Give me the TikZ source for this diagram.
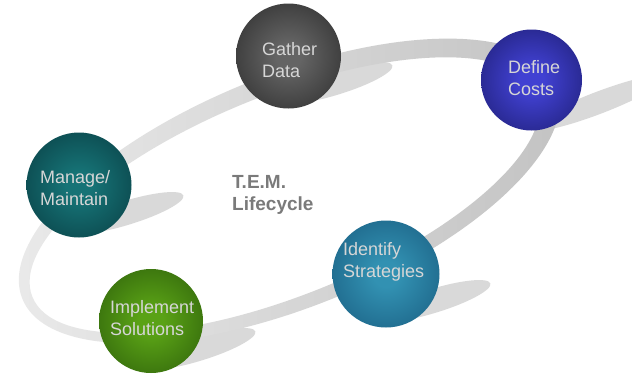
\documentclass[tikz,border=0pt]{standalone}
\usepackage{fontspec}
\setmainfont{Liberation Sans}
\definecolor{sphin}{RGB}{100,100,100}
\definecolor{sphout}{RGB}{40,40,40}
\pgfdeclareradialshading[sphin,sphout]{sphere}{\pgfpoint{0bp}{0bp}}{color(0bp)=(sphin); color(6bp)=(sphin); color(42bp)=(sphout); color(50bp)=(sphout)}
\definecolor{gatherin}{RGB}{100,100,100}\definecolor{gatherout}{RGB}{32,32,32}
\definecolor{definein}{RGB}{65,65,210}\definecolor{defineout}{RGB}{22,22,95}
\definecolor{managein}{RGB}{22,115,118}\definecolor{manageout}{RGB}{6,50,56}
\definecolor{identin}{RGB}{50,145,178}\definecolor{identout}{RGB}{20,82,118}
\definecolor{implin}{RGB}{90,162,22}\definecolor{implout}{RGB}{36,82,8}
\tikzset{
  sph/.style 2 args={circle, inner sep=0pt, minimum size=#2, shade, shading=sphere,
    /utils/exec={\colorlet{sphin}{#1in}\colorlet{sphout}{#1out}}},
  lbl/.style={anchor=west, align=left, inner sep=0pt, text=white!84!black,
    font=\fontsize{18}{22}\selectfont},
  shadowfill/.style={fill=black!15},
}
\begin{document}
\begin{tikzpicture}[x=1pt,y=-1pt]
\useasboundingbox (0,0) rectangle (632,376);
\fill[white] (0,0) rectangle (632,376);
\clip (0,0) rectangle (632,376);
% shadows
\fill[shadowfill, rotate around={17:(335,83)}] (335,83) ellipse [x radius=60pt, y radius=12pt];
\fill[shadowfill, rotate around={21:(598,103)}] (598,103) ellipse [x radius=72pt, y radius=11pt];
\fill[shadowfill, rotate around={17:(126,213)}] (126,213) ellipse [x radius=60pt, y radius=12pt];
\fill[shadowfill, rotate around={17:(433,301)}] (433,301) ellipse [x radius=60pt, y radius=12pt];
\fill[shadowfill, rotate around={17:(198,349)}] (198,349) ellipse [x radius=60pt, y radius=12pt];
% ring
\begin{scope}[shift={(287,193)}, rotate=22]
\shade[left color=black!8, right color=black!24, even odd rule]
  (3,-1) ellipse [x radius=288pt, y radius=116pt]
  (-3,1) ellipse [x radius=272pt, y radius=100pt];
\end{scope}
% spheres
\node[sph={gather}{105pt}] (gather) at (288.5,56) {};
\node[sph={define}{101pt}] (define) at (531.5,80) {};
\node[sph={manage}{105pt}] (manage) at (79,185) {};
\node[sph={ident}{107pt}] (ident) at (386,274) {};
\node[sph={impl}{104pt}] (impl) at (151,321) {};
% labels
\node[lbl] (tgather) at (262,60) {Gather\\Data};
\node[lbl] (tdefine) at (508,78) {Define\\Costs};
\node[lbl] (tmanage) at (40,188) {Manage/\\Maintain};
\node[lbl] (tident) at (343,262) {Identify\\Strategies};
\node[lbl] (timpl) at (110,318) {Implement\\Solutions};
\node[anchor=west, align=left, inner sep=0pt, text=black!52,
  font=\fontsize{19}{22}\selectfont\bfseries] (title) at (232,195) {T.E.M.\\Lifecycle};
\end{tikzpicture}
\end{document}
